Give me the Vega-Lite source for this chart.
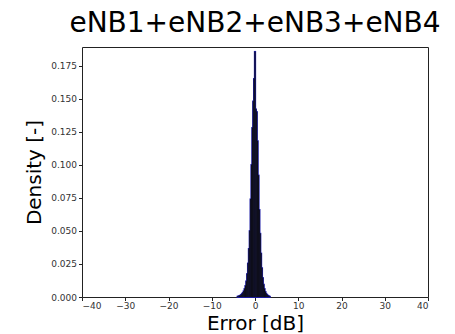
{
  "$schema": "https://vega.github.io/schema/vega-lite/v6.json",
  "autosize": "none",
  "width": 346,
  "height": 250,
  "padding": {"left": 82, "top": 47, "right": 27, "bottom": 37},
  "background": "white",
  "config": {
    "font": "DejaVu Sans",
    "view": {"stroke": "#222", "strokeWidth": 1},
    "axis": {"grid": false, "domain": false, "tickColor": "#222", "tickSize": 3.5, "labelFontSize": 9, "labelColor": "#333", "titleFontWeight": "normal", "titleFontSize": 20, "titleColor": "black"}
  },
  "title": {"text": "eNB1+eNB2+eNB3+eNB4", "fontSize": 28, "fontWeight": "normal", "color": "black", "offset": 9, "anchor": "middle"},
  "data": {"values": [
    {"lo": -4.1, "hi": -3.9, "d": 0.0004},
    {"lo": -3.9, "hi": -3.7, "d": 0.0006},
    {"lo": -3.7, "hi": -3.5, "d": 0.0009},
    {"lo": -3.5, "hi": -3.3, "d": 0.0012},
    {"lo": -3.3, "hi": -3.1, "d": 0.0017},
    {"lo": -3.1, "hi": -2.9, "d": 0.0024},
    {"lo": -2.9, "hi": -2.7, "d": 0.0033},
    {"lo": -2.7, "hi": -2.5, "d": 0.0045},
    {"lo": -2.5, "hi": -2.3, "d": 0.0062},
    {"lo": -2.3, "hi": -2.1, "d": 0.0085},
    {"lo": -2.1, "hi": -1.9, "d": 0.0120},
    {"lo": -1.9, "hi": -1.7, "d": 0.0175},
    {"lo": -1.7, "hi": -1.5, "d": 0.0255},
    {"lo": -1.5, "hi": -1.3, "d": 0.0365},
    {"lo": -1.3, "hi": -1.1, "d": 0.0500},
    {"lo": -1.1, "hi": -0.9, "d": 0.0740},
    {"lo": -0.9, "hi": -0.7, "d": 0.1000},
    {"lo": -0.7, "hi": -0.5, "d": 0.1280},
    {"lo": -0.5, "hi": -0.3, "d": 0.1480},
    {"lo": -0.3, "hi": -0.1, "d": 0.1650},
    {"lo": -0.1, "hi": 0.1, "d": 0.1855},
    {"lo": 0.1, "hi": 0.3, "d": 0.1420},
    {"lo": 0.3, "hi": 0.5, "d": 0.1400},
    {"lo": 0.5, "hi": 0.7, "d": 0.1180},
    {"lo": 0.7, "hi": 0.9, "d": 0.0920},
    {"lo": 0.9, "hi": 1.1, "d": 0.0660},
    {"lo": 1.1, "hi": 1.3, "d": 0.0480},
    {"lo": 1.3, "hi": 1.5, "d": 0.0330},
    {"lo": 1.5, "hi": 1.7, "d": 0.0220},
    {"lo": 1.7, "hi": 1.9, "d": 0.0145},
    {"lo": 1.9, "hi": 2.1, "d": 0.0095},
    {"lo": 2.1, "hi": 2.3, "d": 0.0062},
    {"lo": 2.3, "hi": 2.5, "d": 0.0040},
    {"lo": 2.5, "hi": 2.7, "d": 0.0026},
    {"lo": 2.7, "hi": 2.9, "d": 0.0017},
    {"lo": 2.9, "hi": 3.1, "d": 0.0011},
    {"lo": 3.1, "hi": 3.3, "d": 0.0007},
    {"lo": 3.3, "hi": 3.5, "d": 0.0004}
  ]},
  "encoding": {
    "x": {"field": "lo", "type": "quantitative", "scale": {"domain": [-40, 40], "nice": false, "zero": false},
      "axis": {"values": [-40, -30, -20, -10, 0, 10, 20, 30, 40], "title": "Error [dB]", "titlePadding": 3, "labelPadding": 1}},
    "x2": {"field": "hi"},
    "y": {"field": "d", "type": "quantitative", "scale": {"domain": [0, 0.189], "nice": false},
      "axis": {"values": [0, 0.025, 0.05, 0.075, 0.1, 0.125, 0.15, 0.175], "format": ".3f", "title": "Density [-]", "titlePadding": 6, "labelPadding": 2}},
    "y2": {"datum": 0}
  },
  "layer": [
    {"mark": {"type": "rect", "fill": "#1c1cb4", "stroke": "#1c1cb4", "strokeWidth": 1.4}},
    {"mark": {"type": "rect", "fill": "black", "stroke": "#333", "strokeWidth": 0.2}}
  ]
}
